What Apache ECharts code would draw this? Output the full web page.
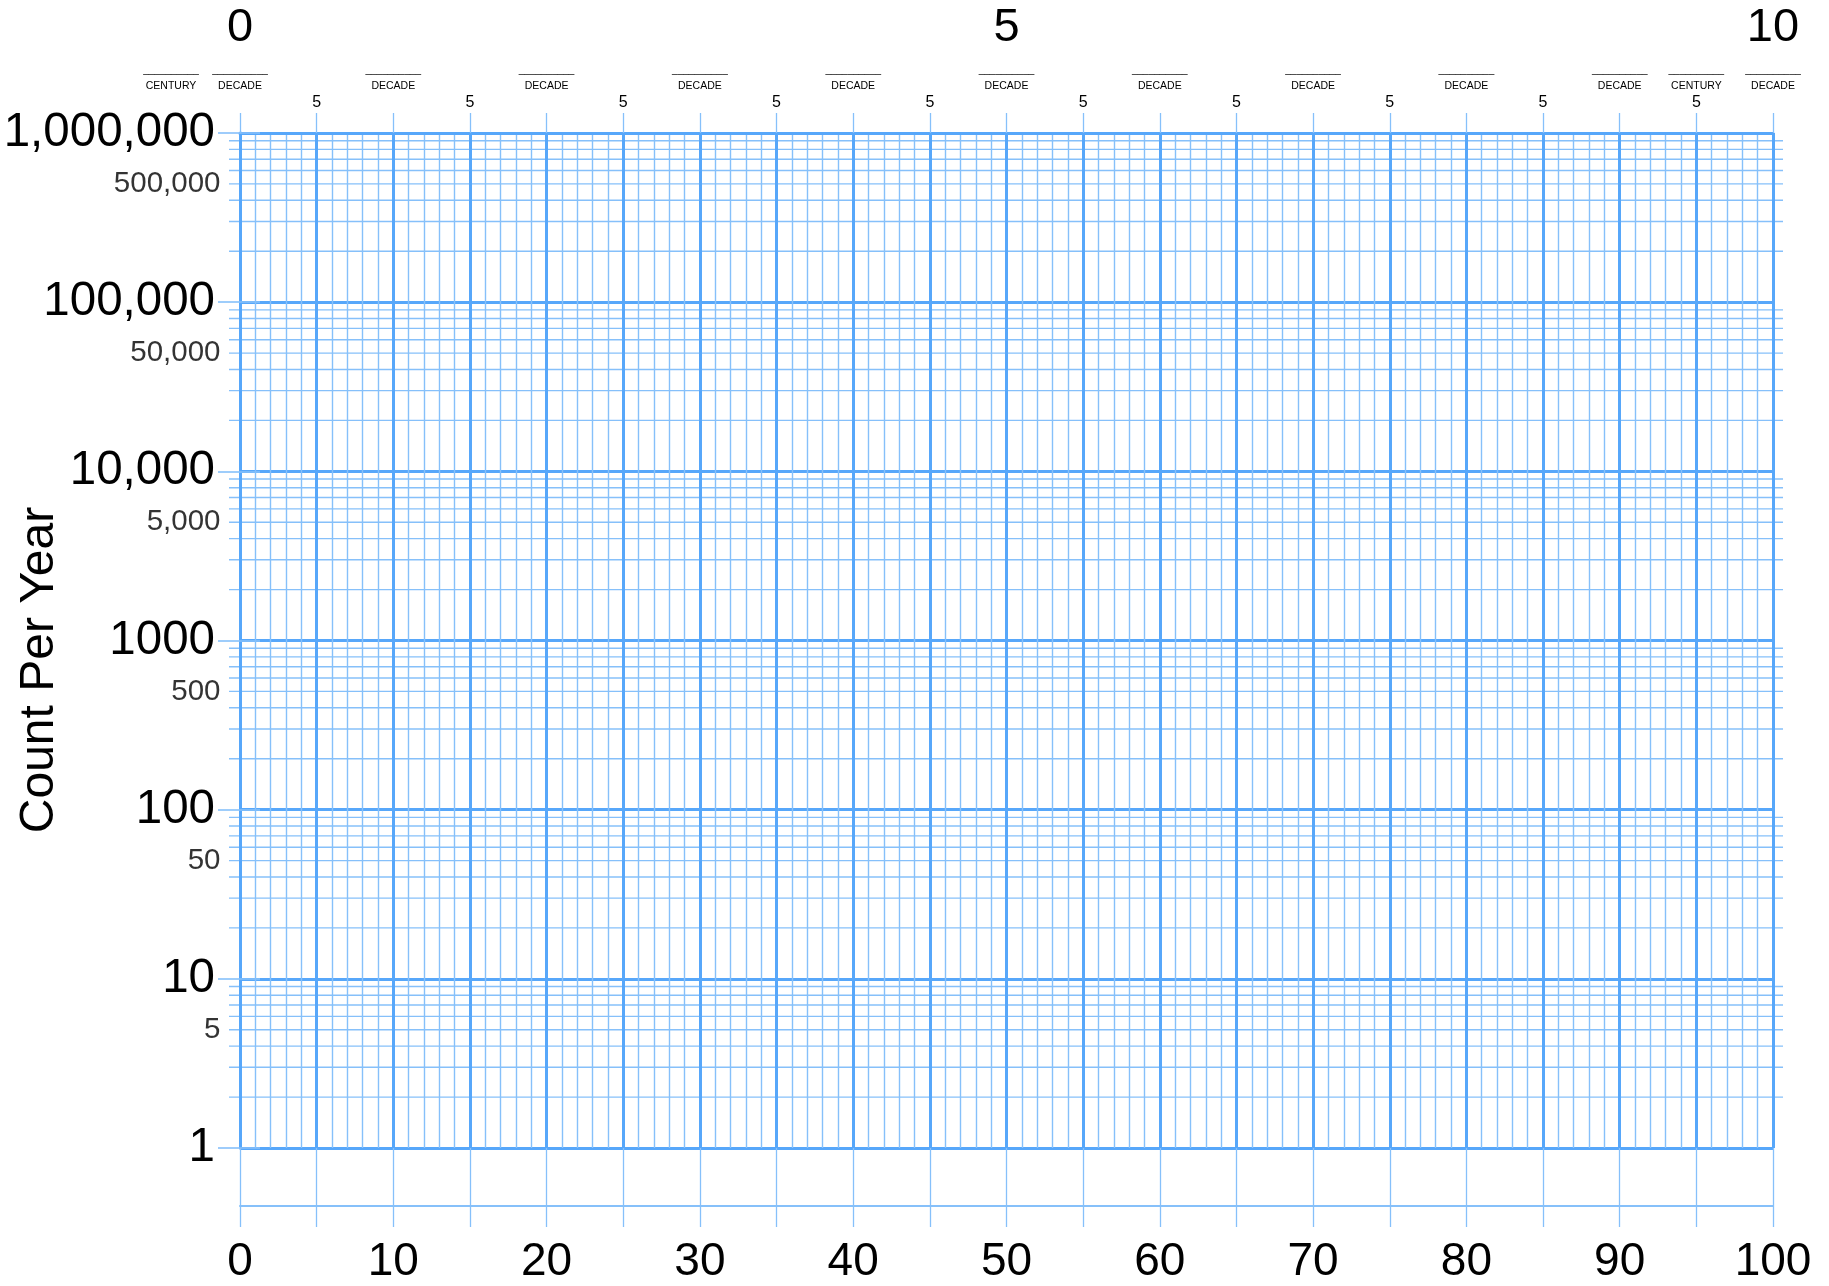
<!DOCTYPE html>
<html>
<head>
<meta charset="utf-8">
<script src="https://cdn.jsdelivr.net/npm/echarts@6.0.0/dist/echarts.min.js"></script>
<style>
html,body{margin:0;padding:0;background:#ffffff;}
#chart{width:1829px;height:1286px;}
</style>
</head>
<body>
<div id="chart"></div>
<script>
// ---- data ----
const xMin = 0;
const xMax = 100;
const bottomTickLabels = ['0', '10', '20', '30', '40', '50', '60', '70', '80', '90', '100'];
const cycleLabels = ['0', '5', '10'];
const periodMarks = [-4.5, 0, 10, 20, 30, 40, 50, 60, 70, 80, 90, 95, 100];
const periodNames = ['CENTURY', 'DECADE', 'DECADE', 'DECADE', 'DECADE', 'DECADE', 'DECADE',
  'DECADE', 'DECADE', 'DECADE', 'DECADE', 'CENTURY', 'DECADE'];
const yMin = 1;
const yMax = 1000000;
const yMajorLabels = ['1', '10', '100', '1000', '10,000', '100,000', '1,000,000'];
const yMinorValues = [5, 50, 500, 5000, 50000, 500000];
const yMinorLabels = ['5', '50', '500', '5,000', '50,000', '500,000'];
const mantissas = [2, 3, 4, 5, 6, 7, 8, 9];
const decadeStarts = [1, 10, 100, 1000, 10000, 100000];
const yTitle = 'Count Per Year';

// ---- styles ----
const FONT = "'Liberation Sans', Arial, Helvetica, sans-serif";
const MAJOR = '#57a7fa';
const MINOR = '#86c0fa';

const minorGridValues = [];
decadeStarts.forEach(d => mantissas.forEach(m => minorGridValues.push(m * d)));

const chart = echarts.init(document.getElementById('chart'), null, {renderer: 'canvas'});

const option = {
  animation: false,
  backgroundColor: '#ffffff',
  grid: {left: 240, right: 56, top: 133, bottom: 138, containLabel: false},
  graphic: [{
    type: 'text',
    x: 40, y: 670,
    rotation: Math.PI / 2,
    style: {text: yTitle, font: '48px ' + FONT, fill: '#000', textAlign: 'center', textVerticalAlign: 'middle'}
  }],
  xAxis: [
    { // grid verticals + extensions below grid
      type: 'value', position: 'bottom', min: xMin, max: xMax, interval: 5, offset: 0,
      axisLine: {show: false},
      axisTick: {show: true, length: 58, lineStyle: {color: MINOR, width: 1.3}},
      axisLabel: {show: false},
      splitLine: {show: true, lineStyle: {color: MAJOR, width: 3}},
      minorTick: {show: false, splitNumber: 5},
      minorSplitLine: {show: true, lineStyle: {color: MINOR, width: 1.4}}
    },
    { // bottom scale with labels
      type: 'value', position: 'bottom', min: xMin, max: xMax, interval: 5, offset: 58,
      axisLine: {show: true, lineStyle: {color: MINOR, width: 2}},
      axisTick: {show: true, length: 21, lineStyle: {color: MINOR, width: 1.3}},
      axisLabel: {show: true, margin: 33, fontSize: 46, fontFamily: FONT, color: '#000',
        formatter: v => (v % 10 === 0 ? bottomTickLabels[v / 10] : '')},
      splitLine: {show: false}
    },
    { // top border with '5' labels
      type: 'value', position: 'top', min: xMin, max: xMax, interval: 5, offset: 0,
      axisLine: {show: true, lineStyle: {color: MAJOR, width: 3}},
      axisTick: {show: true, length: 20, lineStyle: {color: MINOR, width: 1.3}},
      axisLabel: {show: true, margin: 22, fontSize: 16, fontFamily: FONT, color: '#000',
        formatter: v => (v % 10 === 5 ? '5' : '')},
      splitLine: {show: false}
    },
    { // cycle labels
      type: 'value', position: 'top', min: xMin, max: xMax, interval: 50, offset: 0,
      axisLine: {show: false}, axisTick: {show: false},
      axisLabel: {show: true, margin: 81, fontSize: 47, fontFamily: FONT, color: '#000',
        formatter: v => cycleLabels[v / 50]},
      splitLine: {show: false}
    }
  ],
  yAxis: [
    {
      type: 'log', logBase: 10, position: 'left', min: yMin, max: yMax,
      axisLine: {show: true, lineStyle: {color: MAJOR, width: 3}},
      axisTick: {show: true, length: 22, lineStyle: {color: MINOR, width: 1.6}},
      axisLabel: {show: true, margin: 25, fontSize: 47.5, fontFamily: FONT, color: '#000',
        formatter: v => yMajorLabels[Math.round(Math.log10(v))]},
      splitLine: {show: true, lineStyle: {color: MAJOR, width: 3}},
      minorTick: {show: false}, minorSplitLine: {show: false}
    },
    {
      type: 'log', logBase: 10, position: 'right', min: yMin, max: yMax,
      axisLine: {show: true, lineStyle: {color: MAJOR, width: 3}},
      axisTick: {show: true, length: 20, lineStyle: {color: MINOR, width: 1.6}},
      axisLabel: {show: false},
      splitLine: {show: false}
    }
  ],
  series: [
    { // minor horizontal log lines with short stubs outside the grid
      type: 'custom', name: 'minorLog', xAxisIndex: 0, yAxisIndex: 0, z: -1, silent: true,
      data: minorGridValues.map(v => [xMin, v]),
      renderItem: function (params, api) {
        const v = api.value(1);
        const p1 = api.coord([xMin, v]);
        const p2 = api.coord([xMax, v]);
        return {type: 'line', shape: {x1: p1[0] - 11, y1: p1[1], x2: p2[0] + 10, y2: p2[1]},
          style: {stroke: MINOR, lineWidth: 1.4}};
      }
    },
    { // DECADE / CENTURY headers
      type: 'custom', name: 'periods', xAxisIndex: 0, yAxisIndex: 0, silent: true,
      data: periodMarks.map(x => [x, yMax]),
      renderItem: function (params, api) {
        const p = api.coord([api.value(0), yMax]);
        const name = periodNames[params.dataIndex];
        return {type: 'group', children: [
          {type: 'text', x: p[0], y: p[1] - 62.5,
            style: {text: '__________', font: '10px ' + FONT, fill: '#000', textAlign: 'center', textVerticalAlign: 'middle'}},
          {type: 'text', x: p[0], y: p[1] - 46.5,
            style: {text: name, font: '10.5px ' + FONT, fill: '#000', textAlign: 'center', textVerticalAlign: 'middle'}}
        ]};
      }
    },
    { // half-decade labels on the log scale
      type: 'scatter', name: 'halfLabels', xAxisIndex: 0, yAxisIndex: 0, silent: true, clip: false,
      symbolSize: 1, itemStyle: {color: 'rgba(0,0,0,0)'},
      data: yMinorValues.map(v => [xMin, v]),
      label: {show: true, position: 'left', distance: 19, fontSize: 29.5, fontFamily: FONT, color: '#000',
        formatter: p => yMinorLabels[p.dataIndex]}
    }
  ]
};
chart.setOption(option);
</script>
</body>
</html>
